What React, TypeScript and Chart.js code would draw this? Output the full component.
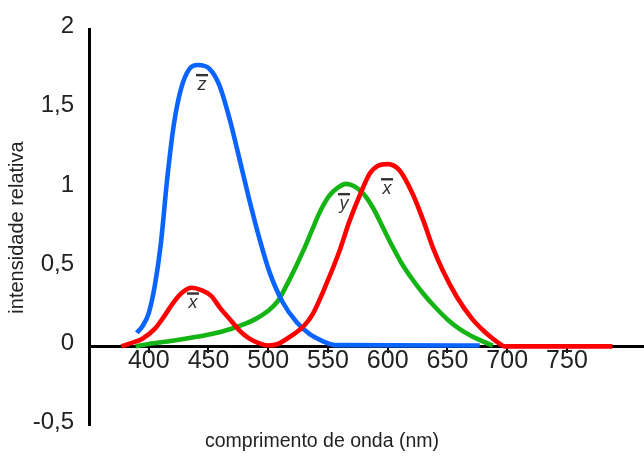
import React, { useEffect, useRef } from 'react';
import { Chart, registerables } from 'chart.js';

Chart.register(...registerables);

const FONT = "'Liberation Sans', Arial, sans-serif";

const xTickValues = [400, 450, 500, 550, 600, 650, 700, 750];
const yTickValues = [-0.5, 0, 0.5, 1, 1.5, 2];

// x-bar (red)
const redNm = [377, 385, 395, 405, 412, 420, 428, 436, 444, 452, 460, 468, 476, 484, 492, 500, 508, 515, 522, 530, 537, 549, 560, 568, 577, 585, 592, 600, 610, 621, 630, 638, 646, 658, 671, 680, 686, 692, 698, 788];
const redVal = [0.0, 0.02, 0.05, 0.11, 0.18, 0.27, 0.34, 0.37, 0.355, 0.32, 0.24, 0.17, 0.1, 0.05, 0.02, 0.005, 0.015, 0.045, 0.08, 0.13, 0.2, 0.4, 0.61, 0.79, 0.96, 1.09, 1.14, 1.15, 1.11, 0.96, 0.79, 0.62, 0.48, 0.31, 0.17, 0.1, 0.06, 0.025, 0.0, 0.0];

// z-bar (blue)
const blueNm = [390, 395, 400, 405, 410, 415.5, 421, 427, 434, 441, 451, 459, 467.5, 476, 484, 493, 501, 512, 524, 535, 545, 556, 677];
const blueVal = [0.085, 0.13, 0.21, 0.38, 0.64, 1.06, 1.4, 1.625, 1.75, 1.775, 1.75, 1.65, 1.44, 1.18, 0.93, 0.67, 0.47, 0.28, 0.15, 0.075, 0.035, 0.008, 0.005];

// y-bar (green)
const greenNm = [389, 400, 420, 440, 460, 480, 490, 500, 508, 515, 522, 530, 537, 544, 551, 558, 565, 572, 580, 588, 596, 604, 612, 620, 630, 640, 650, 660, 670, 680, 688];
const greenVal = [0.0, 0.015, 0.035, 0.06, 0.09, 0.14, 0.175, 0.225, 0.285, 0.38, 0.485, 0.615, 0.74, 0.86, 0.95, 1.0, 1.025, 1.01, 0.96, 0.87, 0.75, 0.63, 0.52, 0.43, 0.33, 0.245, 0.17, 0.11, 0.065, 0.03, 0.005];

// curve name labels (letter with overbar), anchored in data units (baseline)
const curveLabelText = ['z', 'x', 'y', 'x'];
const curveLabelNm = [443.7, 436.2, 562.6, 598.6];
const curveLabelVal = [1.618, 0.24, 0.867, 0.961];

const toPoints = (xs: number[], ys: number[]) => xs.map((x, i) => ({ x, y: ys[i] }));

const curveLabelPlugin = {
  id: 'curveLabels',
  afterDatasetsDraw(chart: any) {
    const { ctx } = chart;
    const xs = chart.scales.x;
    const ys = chart.scales.y;
    ctx.save();
    ctx.fillStyle = '#333';
    ctx.font = `italic 18px ${FONT}`;
    ctx.textAlign = 'center';
    ctx.textBaseline = 'alphabetic';
    curveLabelText.forEach((t, i) => {
      const px = xs.getPixelForValue(curveLabelNm[i]);
      const py = ys.getPixelForValue(curveLabelVal[i]);
      ctx.fillText(t, px + 1, py);
      ctx.fillRect(px - 5, py - 16, 12, 2.4);
    });
    ctx.restore();
  },
};

export default function App() {
  const canvasRef = useRef<HTMLCanvasElement | null>(null);

  useEffect(() => {
    if (!canvasRef.current) return;
    const common = {
      fill: false,
      pointRadius: 0,
      borderWidth: 4.6,
      cubicInterpolationMode: 'monotone' as const,
      xAxisID: 'x',
      yAxisID: 'y',
    };
    const chart = new Chart(canvasRef.current, {
      type: 'line',
      data: {
        datasets: [
          { ...common, label: 'x', data: toPoints(redNm, redVal), borderColor: '#ff0000' },
          { ...common, label: 'z', data: toPoints(blueNm, blueVal), borderColor: '#0a64ff' },
          { ...common, label: 'y', data: toPoints(greenNm, greenVal), borderColor: '#14b414' },
        ],
      },
      options: {
        animation: false,
        responsive: false,
        layout: { padding: { top: 27, right: 0, left: 0, bottom: 0 } },
        plugins: {
          legend: { display: false },
          tooltip: { enabled: false },
          title: {
            display: true,
            position: 'bottom',
            text: 'comprimento de onda (nm)',
            font: { family: FONT, size: 19.5, weight: 'normal' },
            color: '#222',
            padding: { top: 4, bottom: 5 },
          },
        },
        scales: {
          x: {
            type: 'linear',
            position: { y: 0 } as any,
            min: 350,
            max: 814.5,
            afterFit: (s: any) => { s.height = 0; },
            afterBuildTicks: (s: any) => { s.ticks = xTickValues.map((v) => ({ value: v })); },
            ticks: {
              font: { family: FONT, size: 25, lineHeight: 1 },
              color: '#222',
              padding: -3,
              maxRotation: 0,
              autoSkip: false,
              callback: (v: any) => String(v),
            },
            grid: { display: true, drawOnChartArea: false, drawTicks: true, tickLength: 5, color: '#000', lineWidth: 2 },
            border: { display: true, color: '#000', width: 3 },
          },
          y: {
            type: 'linear',
            position: 'left',
            min: -0.5,
            max: 2,
            afterFit: (s: any) => { s.width = 89; },
            afterBuildTicks: (s: any) => { s.ticks = yTickValues.map((v) => ({ value: v })); },
            ticks: {
              font: { family: FONT, size: 24 },
              color: '#222',
              padding: 15,
              labelOffset: -3,
              callback: (v: any) => String(v).replace('.', ','),
            },
            grid: { display: false, drawTicks: false },
            border: { display: true, color: '#000', width: 3 },
            title: {
              display: true,
              text: 'intensidade relativa',
              font: { family: FONT, size: 20 },
              color: '#222',
              padding: { top: 5, bottom: 0 },
            },
          },
        },
      } as any,
      plugins: [curveLabelPlugin],
    });
    return () => chart.destroy();
  }, []);

  return (
    <div style={{ position: 'fixed', left: 0, top: 0, width: 644, height: 458, background: '#fff' }}>
      <canvas ref={canvasRef} width={644} height={458} style={{ display: 'block' }} />
    </div>
  );
}
